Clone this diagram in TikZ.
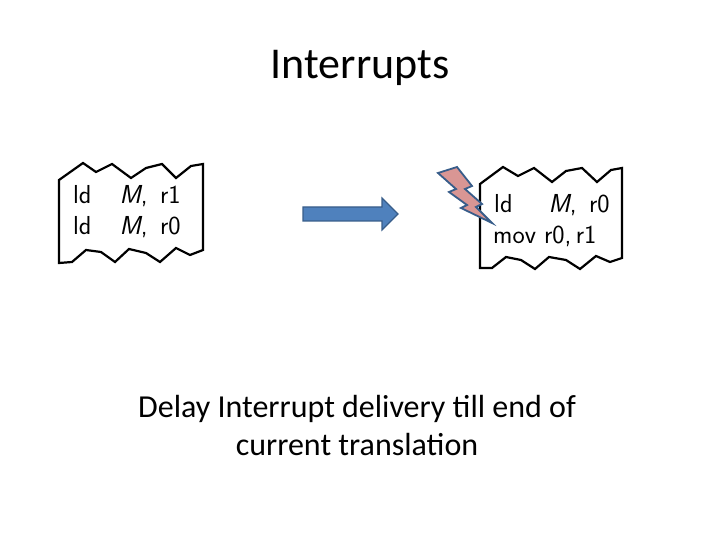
\documentclass[tikz,border=0pt]{standalone}
\usepackage{fontspec}
\setmainfont{Carlito}
\setsansfont{Latin Modern Sans}
\definecolor{arrfill}{HTML}{4F81BD}
\definecolor{arrline}{HTML}{385D8A}
\definecolor{boltfill}{HTML}{D99694}
\begin{document}
\begin{tikzpicture}[x=1pt,y=-1pt,
  box/.style={draw=black,line width=2.2pt,fill=white,line join=miter},
  code/.style={font=\sffamily\fontsize{26}{30}\selectfont,anchor=west,inner sep=0},
  txt/.style={font=\fontsize{32}{38}\selectfont,align=center}]
\useasboundingbox (0,0) rectangle (720,540);
\node[font=\fontsize{44}{48}\selectfont] (title) at (360,68) {Interrupts};
% left box
\draw[box] (59,180) -- (83,163) -- (96,172) -- (112,164) -- (131,178) -- (146,168) -- (162,164) -- (176,178) -- (191,166) -- (203,164)
  -- (203,250) -- (190,255) -- (176,248) -- (160,262) -- (146,253) -- (129,249) -- (115,262) -- (101,252) -- (86,250) -- (72,262) -- (59,263) -- cycle;
\node[code] (l1) at (73,196) {ld\hspace{28pt}\textit{M}, \,r1};
\node[code] (l2) at (73,227) {ld\hspace{28pt}\textit{M}, \,r0};
% right box
\draw[box] (480,184) -- (503,167) -- (518,176) -- (534,168) -- (552,182) -- (566,171) -- (582,168) -- (597,182) -- (611,170) -- (622,168)
  -- (622,258) -- (610,262) -- (596,256) -- (580,269) -- (566,260) -- (549,257) -- (535,269) -- (521,260) -- (506,257) -- (492,268) -- (480,268) -- cycle;
\node[code] (r1) at (494,205) {ld\hspace{36pt}\textit{M}, \,r0};
\node[code] (r2) at (493,236) {mov r0,\,r1};
% arrow
\draw[fill=arrfill,draw=arrline,line width=1.2pt]
  (303,207) -- (382,207) -- (382,198) -- (398,214) -- (382,230) -- (382,221) -- (303,221) -- cycle;
% bolt
\draw[fill=boltfill,draw=arrline,line width=1.8pt,line join=miter]
  (438,173) -- (457,167) -- (472,186) -- (465,189) -- (482,204) -- (476,207) -- (492,223) -- (461,208) -- (467,205) -- (449,192) -- (456,189) -- cycle;
\node[txt] (note) at (357,426) {Delay Interrupt delivery till end of\\current translation};
\end{tikzpicture}
\end{document}
